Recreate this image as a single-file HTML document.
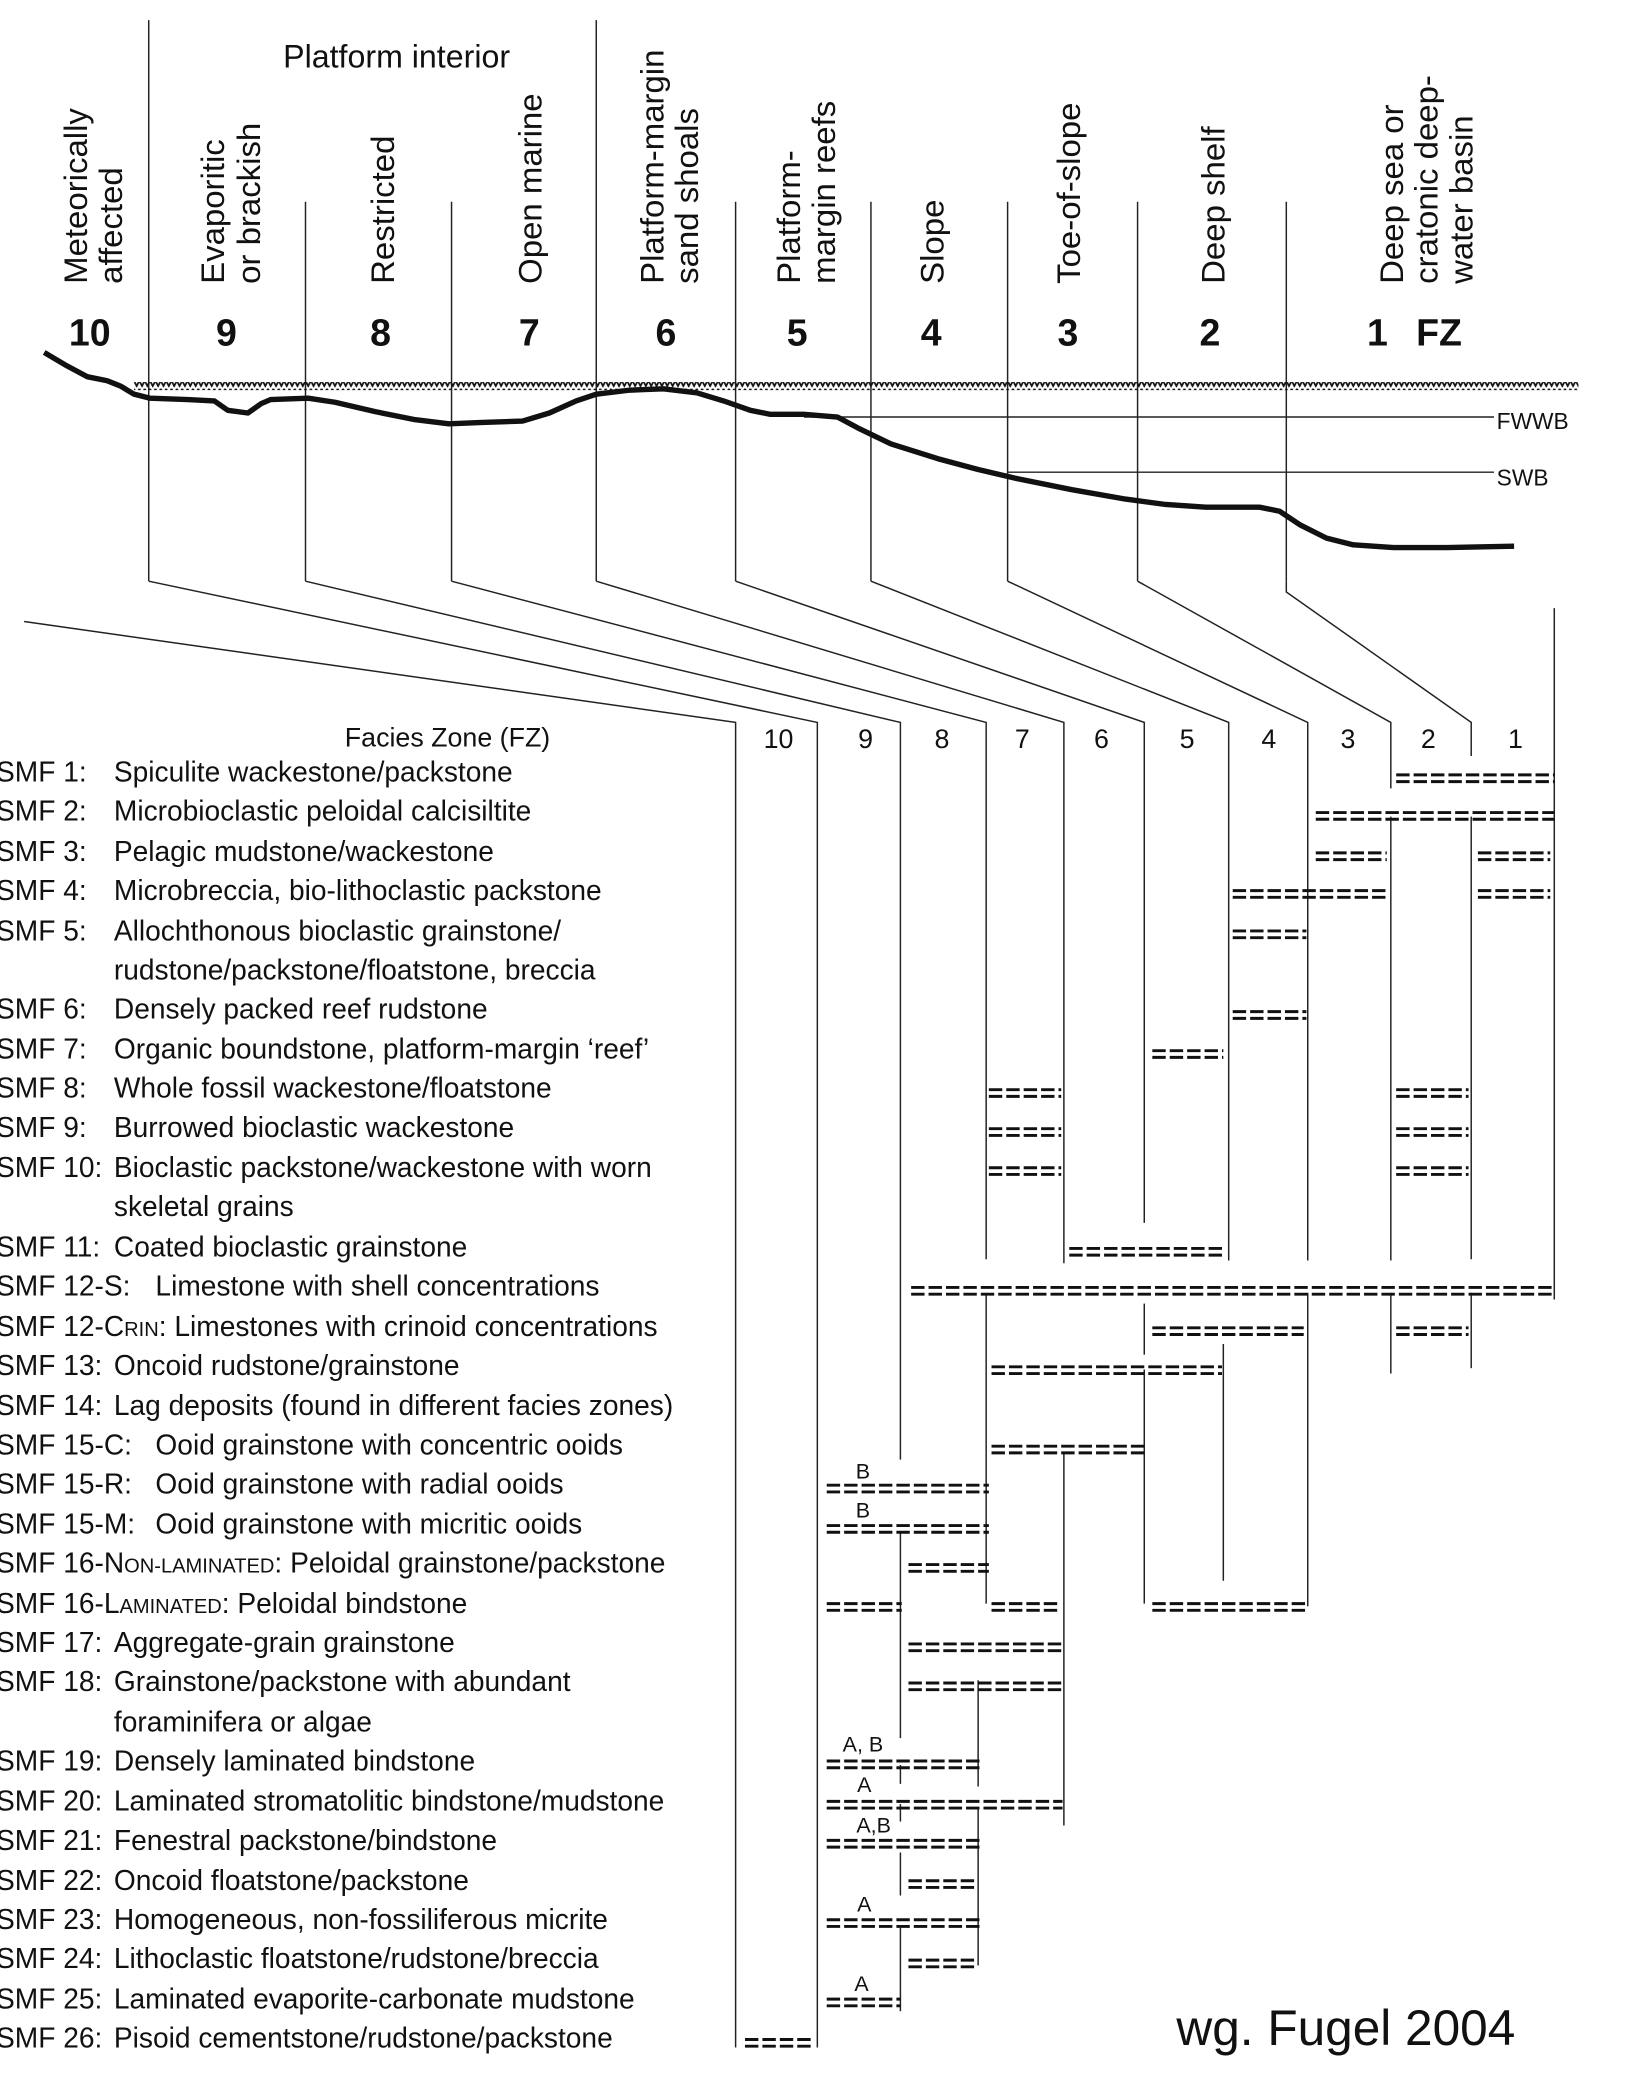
<!DOCTYPE html>
<html><head><meta charset="utf-8">
<style>
html,body{margin:0;padding:0;background:#fff;}
svg{display:block;}
text{font-family:"Liberation Sans",Arial,sans-serif;fill:#111;}
</style></head>
<body>
<svg width="1632" height="2100" viewBox="0 0 1218 1561" preserveAspectRatio="none" xmlns="http://www.w3.org/2000/svg">
<defs>
<pattern id="zz" x="0" y="0" width="4" height="6" patternUnits="userSpaceOnUse">
<path d="M0,1 L2,5 L4,1" fill="none" stroke="#111" stroke-width="1.3"/>
</pattern>
</defs>
<rect width="1218" height="1561" fill="#fff"/>

<g stroke="#222" stroke-width="1.1" fill="none">
<line x1="111" y1="15" x2="111" y2="432"/>
<line x1="228" y1="150" x2="228" y2="432"/>
<line x1="337" y1="150" x2="337" y2="432"/>
<line x1="445" y1="15" x2="445" y2="432"/>
<line x1="549" y1="150" x2="549" y2="432"/>
<line x1="650" y1="150" x2="650" y2="432"/>
<line x1="752" y1="150" x2="752" y2="432"/>
<line x1="849" y1="150" x2="849" y2="432"/>
<line x1="960" y1="150" x2="960" y2="432"/>
<polyline points="18,462 549,537 549,1522"/>
<polyline points="111,432 610,537 610,1522"/>
<polyline points="228,432 672,537 672,1085"/>
<polyline points="337,432 736,537 736,936"/>
<polyline points="445,432 794,537 794,939"/>
<polyline points="549,432 854,537 854,909"/>
<polyline points="650,432 917,537 917,937"/>
<polyline points="752,432 976,537 976,937"/>
<polyline points="849,432 1038,537 1038,586"/>
<polyline points="960,432 960,440 1098,537 1098,562"/>
<line x1="1160" y1="452" x2="1160" y2="966"/>
<line x1="1038" y1="607" x2="1038" y2="937"/>
<line x1="1098" y1="607" x2="1098" y2="936"/>
<line x1="672" y1="1138" x2="672" y2="1292"/>
<line x1="672" y1="1312" x2="672" y2="1326"/>
<line x1="672" y1="1341" x2="672" y2="1354"/>
<line x1="672" y1="1377" x2="672" y2="1409"/>
<line x1="672" y1="1433" x2="672" y2="1495"/>
<line x1="736" y1="961" x2="736" y2="1192"/>
<line x1="794" y1="1080" x2="794" y2="1357"/>
<line x1="854" y1="969" x2="854" y2="1007"/>
<line x1="854" y1="1018" x2="854" y2="1192"/>
<line x1="913" y1="999" x2="913" y2="1175"/>
<line x1="976" y1="961" x2="976" y2="1194"/>
<line x1="1038" y1="961" x2="1038" y2="1021"/>
<line x1="1098" y1="961" x2="1098" y2="1017"/>
<line x1="730" y1="1249" x2="730" y2="1328"/>
<line x1="730" y1="1344" x2="730" y2="1461"/>
<line x1="600" y1="310" x2="1115" y2="310"/>
<line x1="752" y1="351" x2="1115" y2="351"/>
</g>

<rect x="100" y="284" width="1078" height="6" fill="url(#zz)"/>
<path d="M33,262 L50,272 L65,280 L80,283 L90,287 L100,293 L112,296 L140,297 L160,298 L170,305 L185,307 L195,300 L202,297 L230,296 L250,299 L280,306 L310,312 L335,315 L360,314 L390,313 L410,307 L430,298 L445,293 L470,290 L495,289 L520,292 L540,298 L560,305 L575,308 L600,308 L625,310 L640,318 L665,330 L700,341 L730,349 L760,356 L800,364 L840,371 L870,375 L900,377 L940,377 L955,380 L970,390 L990,400 L1010,405 L1040,407 L1080,407 L1130,406" fill="none" stroke="#111" stroke-width="4" stroke-linejoin="round"/>
<text x="1117" y="319" font-size="17">FWWB</text>
<text x="1117" y="361" font-size="17">SWB</text>

<text x="296" y="50" font-size="24" text-anchor="middle">Platform interior</text>
<g font-size="24.5">
<text transform="translate(65,211) rotate(-90)">Meteorically</text>
<text transform="translate(91,211) rotate(-90)">affected</text>
<text transform="translate(167,211) rotate(-90)">Evaporitic</text>
<text transform="translate(194,211) rotate(-90)">or brackish</text>
<text transform="translate(294,211) rotate(-90)">Restricted</text>
<text transform="translate(404,211) rotate(-90)">Open marine</text>
<text transform="translate(495,211) rotate(-90)">Platform-margin</text>
<text transform="translate(521,211) rotate(-90)">sand shoals</text>
<text transform="translate(597,211) rotate(-90)">Platform-</text>
<text transform="translate(623,211) rotate(-90)">margin reefs</text>
<text transform="translate(704,211) rotate(-90)">Slope</text>
<text transform="translate(806,211) rotate(-90)">Toe-of-slope</text>
<text transform="translate(914,211) rotate(-90)">Deep shelf</text>
<text transform="translate(1047,211) rotate(-90)">Deep sea or</text>
<text transform="translate(1073,211) rotate(-90)">cratonic deep-</text>
<text transform="translate(1099,211) rotate(-90)">water basin</text>
</g>
<g font-size="28" font-weight="bold" text-anchor="middle">
<text x="67" y="257">10</text><text x="169" y="257">9</text><text x="284" y="257">8</text>
<text x="395" y="257">7</text><text x="497" y="257">6</text><text x="595" y="257">5</text>
<text x="695" y="257">4</text><text x="797" y="257">3</text><text x="903" y="257">2</text>
<text x="1028" y="257">1</text><text x="1074" y="257">FZ</text>
</g>

<g font-size="20" text-anchor="middle">
<text x="334" y="555">Facies Zone (FZ)</text>
<text x="581" y="556">10</text><text x="646" y="556">9</text><text x="703" y="556">8</text>
<text x="763" y="556">7</text><text x="822" y="556">6</text><text x="886" y="556">5</text>
<text x="947" y="556">4</text><text x="1006" y="556">3</text><text x="1066" y="556">2</text>
<text x="1131" y="556">1</text>
</g>

<g font-size="21">
<text x="-3" y="581">SMF 1:<tspan x="85">Spiculite wackestone/packstone</tspan></text>
<text x="-3" y="610">SMF 2:<tspan x="85">Microbioclastic peloidal calcisiltite</tspan></text>
<text x="-3" y="640">SMF 3:<tspan x="85">Pelagic mudstone/wackestone</tspan></text>
<text x="-3" y="669">SMF 4:<tspan x="85">Microbreccia, bio-lithoclastic packstone</tspan></text>
<text x="-3" y="699">SMF 5:<tspan x="85">Allochthonous bioclastic grainstone/</tspan></text>
<text x="85" y="728">rudstone/packstone/floatstone, breccia</text>
<text x="-3" y="757">SMF 6:<tspan x="85">Densely packed reef rudstone</tspan></text>
<text x="-3" y="787">SMF 7:<tspan x="85">Organic boundstone, platform-margin ‘reef’</tspan></text>
<text x="-3" y="816">SMF 8:<tspan x="85">Whole fossil wackestone/floatstone</tspan></text>
<text x="-3" y="845">SMF 9:<tspan x="85">Burrowed bioclastic wackestone</tspan></text>
<text x="-3" y="875">SMF 10:<tspan x="85">Bioclastic packstone/wackestone with worn</tspan></text>
<text x="85" y="904">skeletal grains</text>
<text x="-3" y="934">SMF 11:<tspan x="85">Coated bioclastic grainstone</tspan></text>
<text x="-3" y="963">SMF 12-S:<tspan x="116">Limestone with shell concentrations</tspan></text>
<text x="-3" y="993">SMF 12-C<tspan font-size="15">RIN</tspan>: Limestones with crinoid concentrations</text>
<text x="-3" y="1022">SMF 13:<tspan x="85">Oncoid rudstone/grainstone</tspan></text>
<text x="-3" y="1052">SMF 14:<tspan x="85">Lag deposits (found in different facies zones)</tspan></text>
<text x="-3" y="1081">SMF 15-C:<tspan x="116">Ooid grainstone with concentric ooids</tspan></text>
<text x="-3" y="1110">SMF 15-R:<tspan x="116">Ooid grainstone with radial ooids</tspan></text>
<text x="-3" y="1140">SMF 15-M:<tspan x="116">Ooid grainstone with micritic ooids</tspan></text>
<text x="-3" y="1169">SMF 16-N<tspan font-size="15">ON-LAMINATED</tspan>: Peloidal grainstone/packstone</text>
<text x="-3" y="1199">SMF 16-L<tspan font-size="15">AMINATED</tspan>: Peloidal bindstone</text>
<text x="-3" y="1228">SMF 17:<tspan x="85">Aggregate-grain grainstone</tspan></text>
<text x="-3" y="1257">SMF 18:<tspan x="85">Grainstone/packstone with abundant</tspan></text>
<text x="85" y="1287">foraminifera or algae</text>
<text x="-3" y="1316">SMF 19:<tspan x="85">Densely laminated bindstone</tspan></text>
<text x="-3" y="1346">SMF 20:<tspan x="85">Laminated stromatolitic bindstone/mudstone</tspan></text>
<text x="-3" y="1375">SMF 21:<tspan x="85">Fenestral packstone/bindstone</tspan></text>
<text x="-3" y="1405">SMF 22:<tspan x="85">Oncoid floatstone/packstone</tspan></text>
<text x="-3" y="1434">SMF 23:<tspan x="85">Homogeneous, non-fossiliferous micrite</tspan></text>
<text x="-3" y="1463">SMF 24:<tspan x="85">Lithoclastic floatstone/rudstone/breccia</tspan></text>
<text x="-3" y="1493">SMF 25:<tspan x="85">Laminated evaporite-carbonate mudstone</tspan></text>
<text x="-3" y="1522">SMF 26:<tspan x="85">Pisoid cementstone/rudstone/packstone</tspan></text>
</g>

<g font-size="16" text-anchor="middle">
<text x="644" y="1099">B</text>
<text x="644" y="1128">B</text>
<text x="644" y="1302">A, B</text>
<text x="645" y="1332">A</text>
<text x="652" y="1362">A,B</text>
<text x="645" y="1421">A</text>
<text x="643" y="1480">A</text>
</g>

<g stroke="#111" stroke-width="2.2" stroke-dasharray="10 3" fill="none">
<path d="M1042,576H1160M1042,581H1160"/>
<path d="M982,604H1160M982,609H1160"/>
<path d="M982,634H1035M982,639H1035M1103,634H1157M1103,639H1157"/>
<path d="M920,662H1035M920,667H1035M1103,662H1157M1103,667H1157"/>
<path d="M920,692H975M920,697H975"/>
<path d="M920,752H975M920,757H975"/>
<path d="M860,781H913M860,786H913"/>
<path d="M738,810H792M738,815H792M1042,810H1096M1042,815H1096"/>
<path d="M738,839H792M738,844H792M1042,839H1096M1042,844H1096"/>
<path d="M738,868H792M738,873H792M1042,868H1096M1042,873H1096"/>
<path d="M798,928H915M798,933H915"/>
<path d="M680,957H1160M680,962H1160"/>
<path d="M860,987H973M860,992H973M1042,987H1096M1042,992H1096"/>
<path d="M740,1016H912M740,1021H912"/>
<path d="M740,1075H855M740,1080H855"/>
<path d="M617,1104H738M617,1109H738"/>
<path d="M617,1134H738M617,1139H738"/>
<path d="M678,1163H738M678,1168H738"/>
<path d="M617,1192H673M617,1197H673M740,1192H792M740,1197H792M860,1192H975M860,1197H975"/>
<path d="M678,1222H793M678,1227H793"/>
<path d="M678,1251H793M678,1256H793"/>
<path d="M617,1309H732M617,1314H732"/>
<path d="M617,1339H793M617,1344H793"/>
<path d="M617,1368H732M617,1373H732"/>
<path d="M678,1398H730M678,1403H730"/>
<path d="M617,1427H732M617,1432H732"/>
<path d="M678,1457H730M678,1462H730"/>
<path d="M617,1486H672M617,1491H672"/>
<path d="M556,1516H607M556,1521H607"/>
</g>

<text x="878" y="1520" font-size="37">wg. Fugel 2004</text>
</svg>
</body></html>
